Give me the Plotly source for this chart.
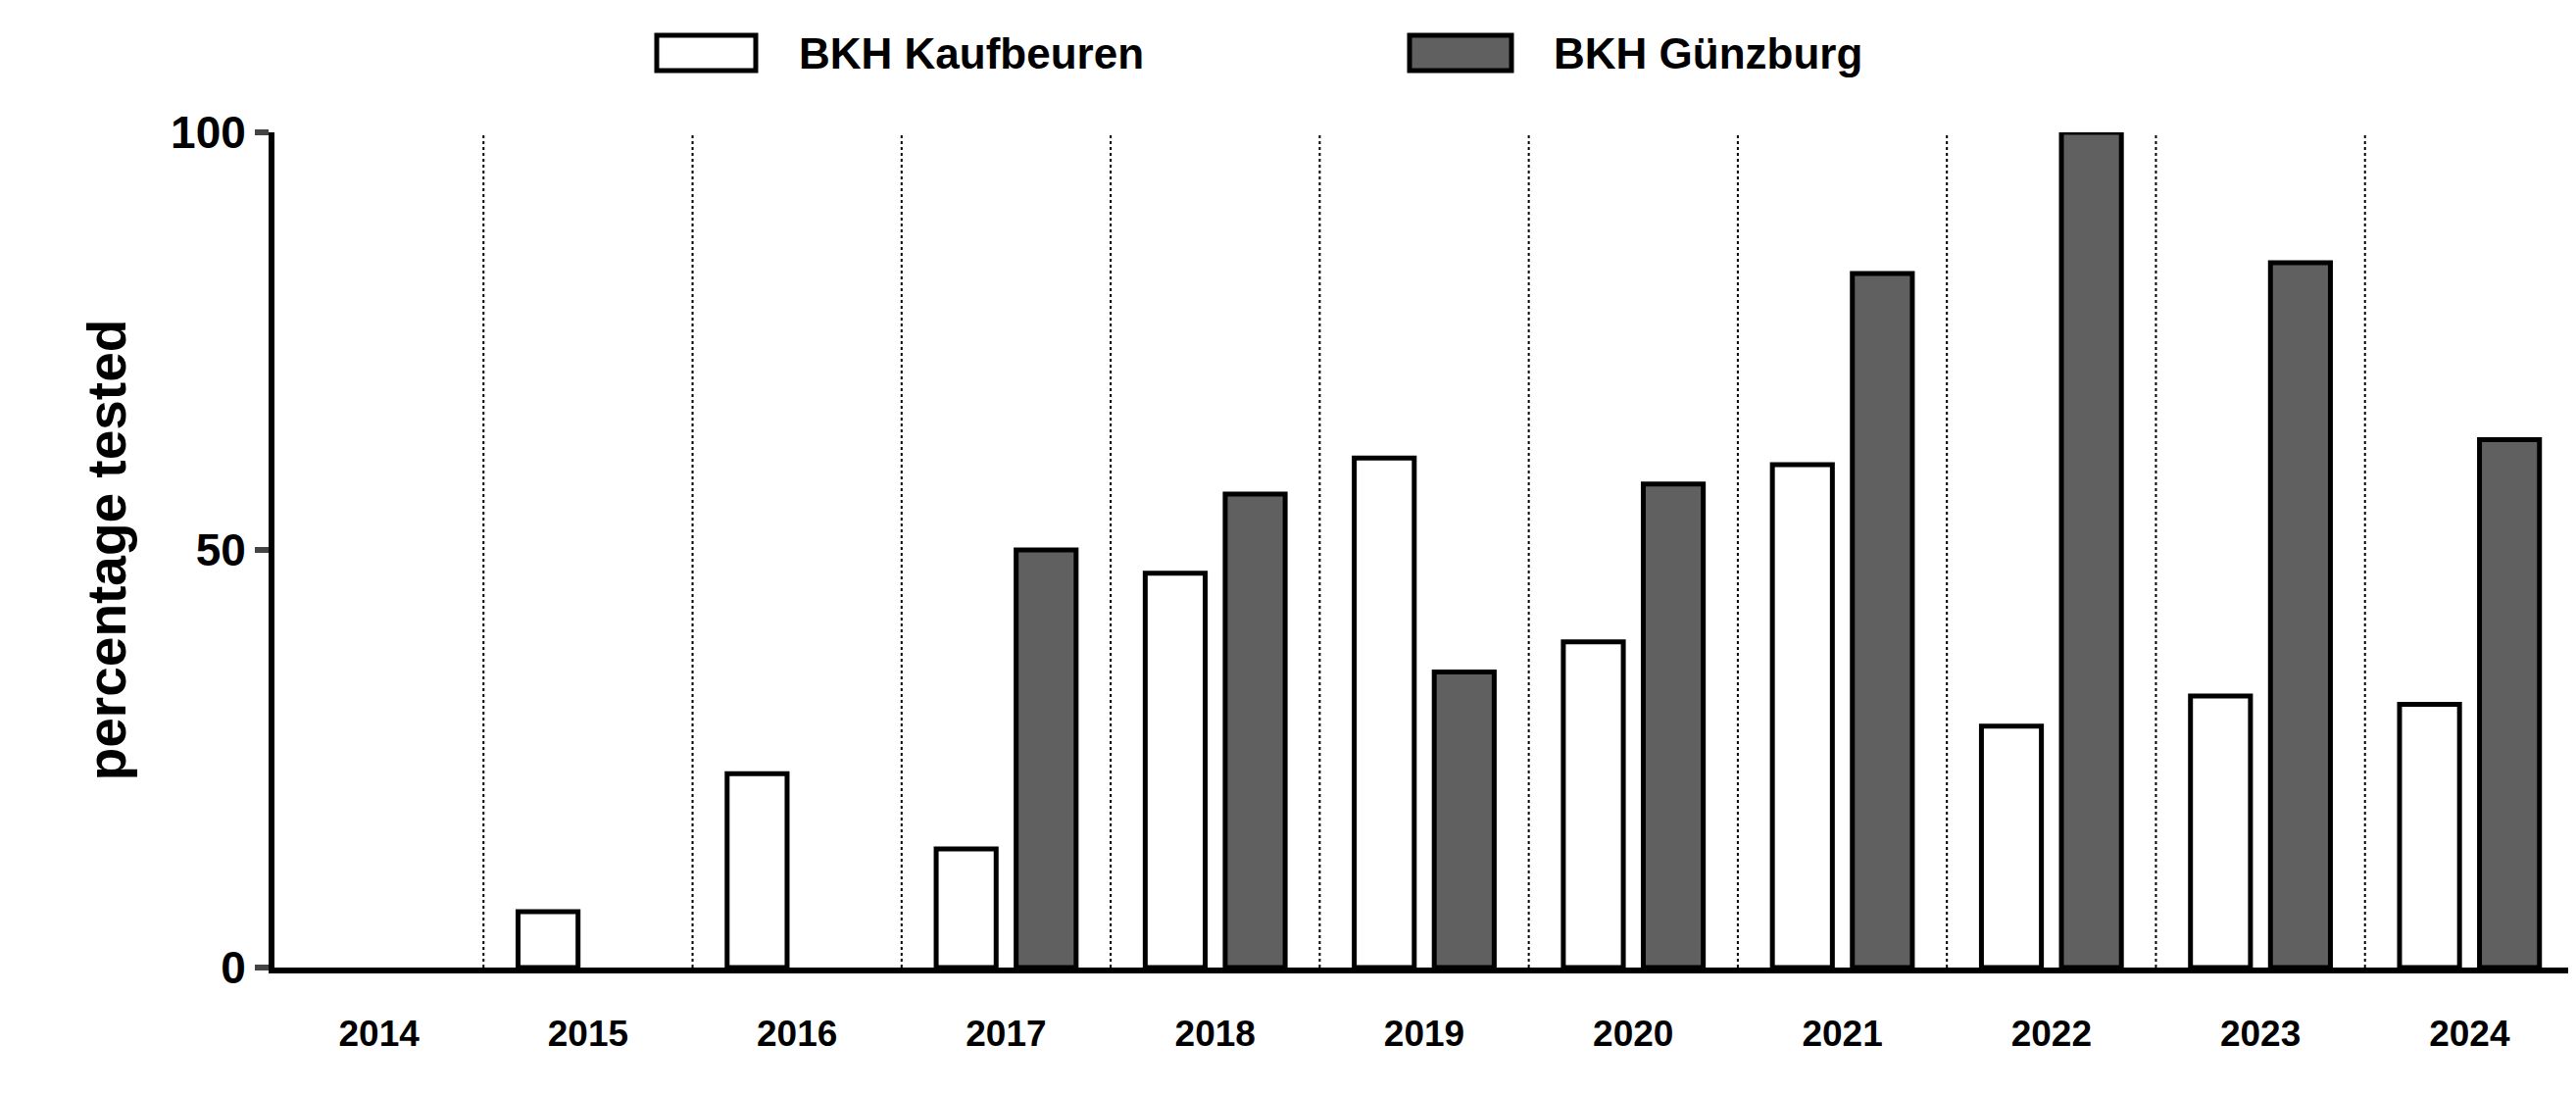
import plotly.graph_objects as go

years = ["2014","2015","2016","2017","2018","2019","2020","2021","2022","2023","2024"]
kaufbeuren = [0, 6.7, 23.2, 14.2, 47.2, 61.0, 39.0, 60.2, 28.9, 32.5, 31.5]
guenzburg = [0, 0, 0, 50.0, 56.7, 35.4, 57.9, 83.1, 100.0, 84.4, 63.2]
y_ticks = [0, 50, 100]
series_names = ["BKH Kaufbeuren", "BKH Günzburg"]
colors = ["white", "#606060"]

fig = go.Figure()
for vals, name, col in zip([kaufbeuren, guenzburg], series_names, colors):
    fig.add_bar(x=years, y=vals, name=name, showlegend=False,
                marker=dict(color=col, line=dict(color="black",
                            width=[5 if v > 0 else 0 for v in vals])))

for i in range(len(years) - 1):
    fig.add_shape(type="line", xref="x", yref="paper", x0=i + 0.5, x1=i + 0.5,
                  y0=0, y1=1, line=dict(color="black", width=2, dash="dot"), layer="below")

L, W, T, H = 272, 2346, 127, 852
def px(x): return (x - L) / W
def py(y): return (T + H - y) / H

font = "Liberation Sans, Arial, sans-serif"
for (bx0, bx1, tx), name, col in zip([(662, 763, 805), (1430, 1534, 1575)], series_names, colors):
    fig.add_shape(type="rect", xref="paper", yref="paper", x0=px(bx0), x1=px(bx1),
                  y0=py(64), y1=py(28), fillcolor=col, line=dict(color="black", width=5))
    fig.add_annotation(xref="paper", yref="paper", x=px(tx), y=py(46), xanchor="left",
                       yanchor="middle", text=name, showarrow=False,
                       font=dict(size=44, family=font, weight="bold", color="black"))

fig.update_layout(
    width=2628, height=1116, paper_bgcolor="white", plot_bgcolor="white",
    barmode="group", bargap=0.235, bargroupgap=0.25, showlegend=False,
    margin=dict(l=L, r=10, t=T, b=137),
    font=dict(family=font, color="black"),
    xaxis=dict(range=[-0.5, 10.5], showline=True, linecolor="black", linewidth=6,
               ticks="", tickfont=dict(size=37, weight="bold"), ticklabelstandoff=30),
    yaxis=dict(range=[0, 100], tickvals=y_ticks, showline=True, linecolor="black",
               linewidth=6, ticks="outside", ticklen=14, tickwidth=6, showgrid=False,
               zeroline=False, tickfont=dict(size=46, weight="bold"),
               title=dict(text="percentage tested", font=dict(size=55, weight="bold"), standoff=30)),
)
fig.write_html("out.html")
